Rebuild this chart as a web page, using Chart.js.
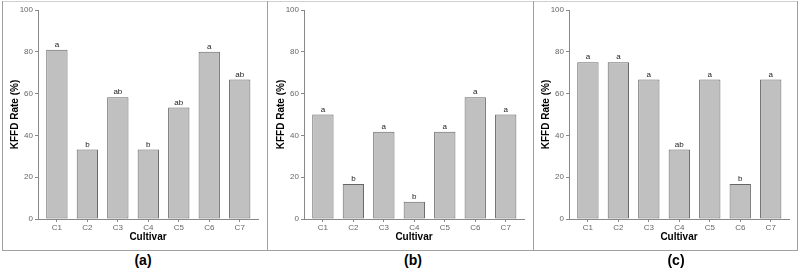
<!DOCTYPE html>
<html>
<head>
<meta charset="utf-8">
<script src="https://cdn.jsdelivr.net/npm/chart.js@4.4.1/dist/chart.umd.min.js"></script>
<style>
  html, body { margin: 0; padding: 0; background: #fff; }
  #wrap { position: relative; width: 800px; height: 269px; overflow: hidden; font-family: "Liberation Sans", Arial, sans-serif; }
  .cv { position: absolute; top: 0; width: 266px; height: 250px; }
  .ln { position: absolute; background: #a0a0a0; }
  .pl { position: absolute; top: 252px; font-weight: bold; font-size: 14px; color: #000; transform: translateX(-50%); }
</style>
</head>
<body>
<div id="wrap">
  <div class="ln" style="left:2px; top:1px; width:796px; height:1px; background:#d0d0d0"></div>
  <div class="ln" style="left:2px; top:1px; width:1px; height:249px"></div>
  <div class="ln" style="left:267px; top:1px; width:1px; height:249px"></div>
  <div class="ln" style="left:533px; top:1px; width:1px; height:249px"></div>
  <div class="ln" style="left:797px; top:1px; width:1px; height:249px"></div>
  <div class="ln" style="left:2px; top:250px; width:796px; height:1px"></div>
  <canvas id="ca" class="cv" style="left:0px"></canvas>
  <canvas id="cb" class="cv" style="left:266px"></canvas>
  <canvas id="cc" class="cv" style="left:531px"></canvas>
  <div class="pl" style="left:143px">(a)</div>
  <div class="pl" style="left:413px">(b)</div>
  <div class="pl" style="left:676px">(c)</div>
</div>
<script>
const categories = ["C1", "C2", "C3", "C4", "C5", "C6", "C7"];
const valuesA = [81, 33.3, 58.3, 33.3, 53.3, 80, 66.7];
const valuesB = [50, 16.7, 41.7, 8.3, 41.7, 58.3, 50];
const valuesC = [75, 75, 66.7, 33.3, 66.7, 16.7, 66.7];
const lettersA = ["a", "b", "ab", "b", "ab", "a", "ab"];
const lettersB = ["a", "b", "a", "b", "a", "a", "a"];
const lettersC = ["a", "a", "a", "ab", "a", "b", "a"];
const yTicks = [0, 20, 40, 60, 80, 100];
const yTitle = "KFFD Rate (%)";
const xTitle = "Cultivar";

const FONT = "'Liberation Sans', Arial, sans-serif";

const letterPlugin = {
  id: 'letters',
  afterDatasetsDraw(chart) {
    const letters = chart.options.plugins.letters.values;
    const meta = chart.getDatasetMeta(0);
    const ctx = chart.ctx;
    ctx.save();
    ctx.font = "8px " + FONT;
    ctx.fillStyle = "#222";
    ctx.textAlign = "center";
    ctx.textBaseline = "bottom";
    meta.data.forEach((bar, i) => {
      ctx.fillText(letters[i], bar.x, bar.y - 1);
    });
    ctx.restore();
  }
};

function makeChart(id, values, letters) {
  const data = values.map((v, i) => ({ x: i + 1, y: v }));
  return new Chart(document.getElementById(id), {
    type: 'bar',
    data: {
      datasets: [{
        data: data,
        backgroundColor: '#c0c0c0',
        borderColor: '#666666',
        borderWidth: 1,
        borderSkipped: false,
        barPercentage: 0.7,
        categoryPercentage: 1.0
      }]
    },
    options: {
      responsive: false,
      animation: false,
      devicePixelRatio: 1,
      layout: { padding: { top: 10, right: 8, bottom: 0, left: 0 } },
      plugins: {
        legend: { display: false },
        tooltip: { enabled: false },
        letters: { values: letters }
      },
      scales: {
        x: {
          type: 'linear',
          offset: false,
          min: 0.38,
          max: 7.6,
          afterFit: s => { s.height = 31; },
          afterBuildTicks: s => { s.ticks = categories.map((c, i) => ({ value: i + 1 })); },
          ticks: {
            autoSkip: false,
            maxRotation: 0,
            padding: 1,
            color: '#666',
            font: { size: 8, family: FONT },
            callback: v => categories[v - 1] || ''
          },
          grid: { offset: false, drawOnChartArea: false, drawTicks: true, tickLength: 3, color: '#888' },
          border: { display: true, color: '#888', width: 1 },
          title: { display: true, text: xTitle, color: '#000', font: { size: 10, weight: 'bold', family: FONT }, padding: { top: 0, bottom: 7 } }
        },
        y: {
          min: 0,
          max: 100,
          afterFit: s => { s.width = 38; },
          afterBuildTicks: s => { s.ticks = yTicks.map(v => ({ value: v })); },
          ticks: {
            padding: 2,
            color: '#666',
            font: { size: 8, family: FONT }
          },
          grid: { drawOnChartArea: false, drawTicks: true, tickLength: 3, color: '#888' },
          border: { display: true, color: '#888', width: 1 },
          title: { display: true, text: yTitle, color: '#000', font: { size: 10, weight: 'bold', family: FONT }, padding: { top: 9, bottom: 0 } }
        }
      }
    },
    plugins: [letterPlugin]
  });
}

[['ca', valuesA, lettersA], ['cb', valuesB, lettersB], ['cc', valuesC, lettersC]].forEach(([id, v, l]) => {
  const c = document.getElementById(id);
  c.width = 266; c.height = 250;
  makeChart(id, v, l);
});
</script>
</body>
</html>
